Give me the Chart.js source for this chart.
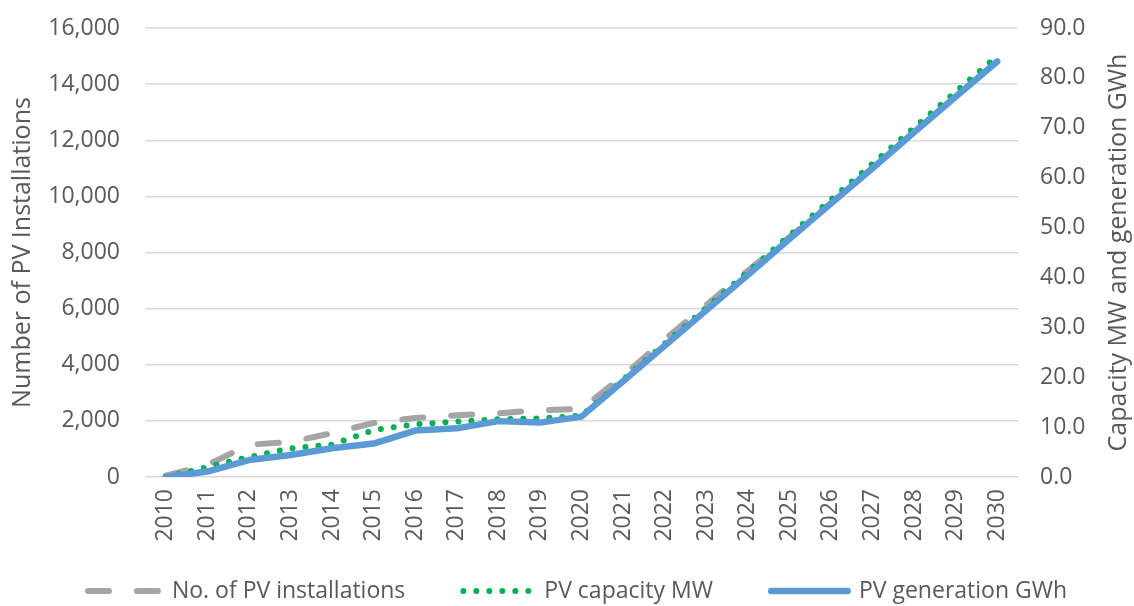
<!DOCTYPE html>
<html>
<head>
<meta charset="utf-8">
<script src="https://cdn.jsdelivr.net/npm/chart.js@4.4.0/dist/chart.umd.min.js"></script>
<style>
  html, body { margin: 0; padding: 0; background: #fff; }
  #wrap { width: 1134px; height: 606px; position: relative; }
</style>
</head>
<body>
<div id="wrap"><canvas id="myChart"></canvas></div>
<script>
var years = ['2010','2011','2012','2013','2014','2015','2016','2017','2018','2019','2020',
             '2021','2022','2023','2024','2025','2026','2027','2028','2029','2030'];

// left axis
var installations = [50, 430, 1150, 1250, 1560, 1930, 2100, 2200, 2270, 2380, 2430,
                     3600, 4900, 6130, 7350, 8550, 9760, 11010, 12290, 13550, 14800];
// right axis
var capacityMW = [0, 2.0, 4.0, 5.75, 6.5, 9.4, 10.55, 11.1, 11.6, 11.75, 12.3,
                  19.5, 26.7, 33.9, 41.1, 48.4, 55.6, 62.8, 70.0, 77.2, 84.4];
var generationGWh = [0, 1.1, 3.4, 4.4, 5.75, 6.7, 9.3, 9.75, 11.2, 10.9, 12.1,
                     19.2, 26.3, 33.4, 40.5, 47.7, 54.8, 61.9, 69.1, 76.2, 83.3];

var seriesNames = ['No. of PV installations', 'PV capacity MW', 'PV generation GWh'];
var leftTitle = 'Number of PV Installations';
var rightTitle = 'Capacity MW and generation GWh';

var textColor = '#595959';
var fontFamily = "'Open Sans', sans-serif";

Chart.defaults.font.family = fontFamily;
Chart.defaults.color = textColor;

// legend + right axis title drawn by hand (right title reads bottom to top)
var extras = {
  id: 'extras',
  afterDraw: function(chart) {
    var ctx = chart.ctx;
    var area = chart.chartArea;
    ctx.save();
    ctx.fillStyle = textColor;
    ctx.font = '25px ' + fontFamily;
    ctx.textAlign = 'center';
    ctx.textBaseline = 'middle';
    ctx.translate(1119, (area.top + area.bottom) / 2);
    ctx.rotate(-Math.PI / 2);
    ctx.fillText(rightTitle, 0, 0);
    ctx.restore();

    // legend
    ctx.save();
    ctx.font = '23px ' + fontFamily;
    var sw = [79, 76, 83];
    var gap = 8, itemGap = 55;
    var total = 0;
    chart.data.datasets.forEach(function(ds, i) {
      total += sw[i] + gap + ctx.measureText(ds.label).width;
      if (i > 0) total += itemGap;
    });
    var x = 576 - total / 2;
    var y = 591;
    chart.data.datasets.forEach(function(ds, i) {
      ctx.beginPath();
      ctx.strokeStyle = ds.borderColor;
      ctx.lineWidth = ds.borderWidth;
      ctx.lineCap = ds.borderCapStyle || 'butt';
      ctx.setLineDash(ds.borderDash || []);
      var inset = ds.borderCapStyle === 'round' ? ds.borderWidth / 2 : 0;
      ctx.moveTo(x + inset, y);
      ctx.lineTo(x + sw[i] - inset, y);
      ctx.stroke();
      ctx.setLineDash([]);
      x += sw[i] + gap;
      ctx.fillStyle = textColor;
      ctx.textAlign = 'left';
      ctx.textBaseline = 'middle';
      ctx.fillText(ds.label, x, y);
      x += ctx.measureText(ds.label).width + itemGap;
    });
    ctx.restore();
  }
};

var data = {
  labels: years,
  datasets: [
    {
      label: seriesNames[0],
      data: installations,
      yAxisID: 'y',
      borderColor: '#A5A5A5',
      backgroundColor: '#A5A5A5',
      borderWidth: 6,
      borderDash: [21, 28],
      borderCapStyle: 'round',
      borderJoinStyle: 'round',
      pointRadius: 0,
      tension: 0,
      order: 3
    },
    {
      label: seriesNames[1],
      data: capacityMW,
      yAxisID: 'y1',
      borderColor: '#00B050',
      backgroundColor: '#00B050',
      borderWidth: 6,
      borderDash: [0, 13],
      borderCapStyle: 'round',
      borderJoinStyle: 'round',
      pointRadius: 0,
      tension: 0,
      order: 2
    },
    {
      label: seriesNames[2],
      data: generationGWh,
      yAxisID: 'y1',
      borderColor: '#5B9BD5',
      backgroundColor: '#5B9BD5',
      borderWidth: 6.5,
      borderCapStyle: 'round',
      borderJoinStyle: 'round',
      pointRadius: 0,
      tension: 0,
      order: 1
    }
  ]
};

function fixVertical(width) {
  return function(s) {
    s.width = width;
    s.paddingTop = 0;
    s.paddingBottom = 0;
  };
}

var config = {
  type: 'line',
  data: data,
  plugins: [extras],
  options: {
    responsive: true,
    maintainAspectRatio: false,
    animation: false,
    layout: { padding: { top: 28, left: 0, right: 0, bottom: 59 } },
    plugins: {
      legend: { display: false },
      tooltip: { enabled: false }
    },
    scales: {
      x: {
        offset: true,
        grid: { display: false, drawTicks: false },
        border: { display: false },
        ticks: {
          autoSkip: false,
          minRotation: 90,
          maxRotation: 90,
          padding: 12,
          color: textColor,
          font: { size: 23 }
        },
        afterFit: function(s) { s.height = 70; s.paddingLeft = 0; s.paddingRight = 0; }
      },
      y: {
        position: 'left',
        min: 0,
        max: 16000,
        grid: { color: '#D9D9D9', lineWidth: 1.5, drawTicks: false },
        border: { display: false },
        ticks: {
          stepSize: 2000,
          padding: 25,
          color: textColor,
          font: { size: 23 },
          callback: function(v) { return v.toLocaleString('en-US'); }
        },
        title: {
          display: true,
          text: leftTitle,
          color: textColor,
          font: { size: 25 },
          padding: { top: 8, bottom: 0 }
        },
        afterFit: fixVertical(145)
      },
      y1: {
        position: 'right',
        min: 0,
        max: 90,
        grid: { drawOnChartArea: false, drawTicks: false },
        border: { display: false },
        ticks: {
          stepSize: 10,
          padding: 22,
          color: textColor,
          font: { size: 23 },
          callback: function(v) { return v.toFixed(1); }
        },
        afterFit: fixVertical(116)
      }
    }
  }
};

var myChart = new Chart(document.getElementById('myChart'), config);
</script>
</body>
</html>
